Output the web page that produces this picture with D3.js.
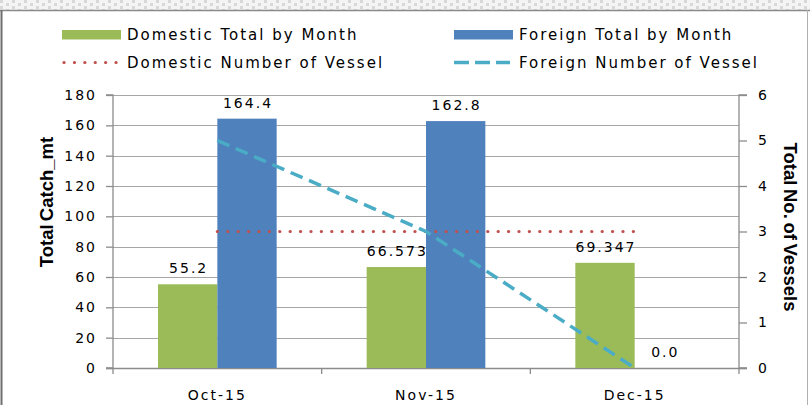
<!DOCTYPE html>
<html>
<head>
<meta charset="utf-8">
<script src="https://cdn.jsdelivr.net/npm/d3@7"></script>
<style>
  html, body { margin: 0; padding: 0; background: #fff; }
  svg { display: block; }
  text { font-family: "DejaVu Sans", Verdana, sans-serif; fill: #000; }
</style>
</head>
<body>
<svg id="chart" width="810" height="405"></svg>
<script>
// ---- data ----
const categories = ["Oct-15", "Nov-15", "Dec-15"];
const domesticTotal = [55.2, 66.573, 69.347];
const foreignTotal = [164.4, 162.8, 0.0];
const domesticVessels = [3, 3, 3];
const foreignVessels = [5, 3, 0];
const leftTicks = [0, 20, 40, 60, 80, 100, 120, 140, 160, 180];
const rightTicks = [0, 1, 2, 3, 4, 5, 6];
const seriesNames = ["Domestic Total by Month", "Foreign Total by Month",
                     "Domestic Number of Vessel", "Foreign Number of Vessel"];

// ---- layout ----
const W = 810, H = 405;
const plot = { left: 113, right: 739, top: 95, bottom: 368 };
const colors = { dom: "#9BBB59", for: "#4F81BD", domLine: "#C0504D", forLine: "#4BACC6" };

const svg = d3.select("#chart");

// top hatched strip and frame
const defs = svg.append("defs");
const pat = defs.append("pattern").attr("id", "hatch").attr("patternUnits", "userSpaceOnUse")
  .attr("width", 12).attr("height", 6);
pat.append("rect").attr("width", 12).attr("height", 6).attr("fill", "#f4f4f4");
pat.append("rect").attr("x", 0).attr("y", 0).attr("width", 3).attr("height", 3).attr("fill", "#d8d8d8");
pat.append("rect").attr("x", 6).attr("y", 3).attr("width", 3).attr("height", 3).attr("fill", "#d8d8d8");
svg.append("rect").attr("x", 0).attr("y", 0).attr("width", W).attr("height", 10).attr("fill", "url(#hatch)");
svg.append("line").attr("x1", 0).attr("x2", W).attr("y1", 10.5).attr("y2", 10.5)
  .attr("stroke", "#8a8a8a").attr("stroke-width", 1.5);
svg.append("line").attr("x1", 1.5).attr("x2", 1.5).attr("y1", 10).attr("y2", H)
  .attr("stroke", "#6e6e6e").attr("stroke-width", 2);
svg.append("line").attr("x1", 807.5).attr("x2", 807.5).attr("y1", 10).attr("y2", H)
  .attr("stroke", "#b0b0b0").attr("stroke-width", 1);

// scales
const x = d3.scaleBand().domain(categories).range([plot.left, plot.right]).paddingInner(0).paddingOuter(0);
const yL = d3.scaleLinear().domain([0, 180]).range([plot.bottom, plot.top]);
const yR = d3.scaleLinear().domain([0, 6]).range([plot.bottom, plot.top]);
const innerPad = 45;
const xs = d3.scaleBand().domain(["dom", "for"])
  .range([innerPad, x.bandwidth() - innerPad]).padding(0);

// gridlines
svg.append("g").selectAll("line").data(leftTicks.slice(1)).join("line")
  .attr("x1", plot.left).attr("x2", plot.right)
  .attr("y1", d => Math.round(yL(d)) + 0.5).attr("y2", d => Math.round(yL(d)) + 0.5)
  .attr("stroke", "#a6a6a6").attr("stroke-width", 1);

// left axis
const axL = svg.append("g").attr("transform", `translate(${plot.left},0)`)
  .call(d3.axisLeft(yL).tickValues(leftTicks).tickSize(7).tickPadding(11).tickFormat(d3.format("d")));
// right axis
const axR = svg.append("g").attr("transform", `translate(${plot.right},0)`)
  .call(d3.axisRight(yR).tickValues(rightTicks).tickSize(8).tickPadding(11).tickFormat(d3.format("d")));
// bottom axis
const axB = svg.append("g").attr("transform", `translate(0,${plot.bottom})`)
  .call(d3.axisBottom(x).tickSize(0).tickPadding(22));
[axL, axR, axB].forEach(g => {
  g.select(".domain").attr("stroke", "#8c8c8c").attr("stroke-width", 1.3);
  g.selectAll(".tick line").attr("stroke", "#8c8c8c").attr("stroke-width", 1.3);
  g.selectAll("text").attr("font-family", "DejaVu Sans, sans-serif")
    .attr("font-size", 14).attr("fill", "#000").attr("letter-spacing", 2);
});
axL.select(".domain").attr("d", `M-7,${plot.top}H0V${plot.bottom}H-7`);
axR.select(".domain").attr("d", `M8,${plot.top}H0V${plot.bottom}H8`);
axB.select(".domain").remove();
axL.selectAll(".tick text").attr("dx", 2);
// category boundary ticks on bottom axis
const bounds = categories.map(c => x(c)).concat([plot.right]);
svg.append("g").selectAll("line").data(bounds).join("line")
  .attr("x1", d => d).attr("x2", d => d)
  .attr("y1", plot.bottom).attr("y2", plot.bottom + 6)
  .attr("stroke", "#8c8c8c").attr("stroke-width", 1.3);
svg.append("line").attr("x1", plot.left - 7).attr("x2", plot.right + 8)
  .attr("y1", plot.bottom + 0.5).attr("y2", plot.bottom + 0.5)
  .attr("stroke", "#8c8c8c").attr("stroke-width", 1.3);

// bars
const barData = [];
categories.forEach((c, i) => {
  barData.push({ c, key: "dom", v: domesticTotal[i], label: String(domesticTotal[i]) });
  barData.push({ c, key: "for", v: foreignTotal[i], label: foreignTotal[i].toFixed(1) });
});
svg.append("g").selectAll("rect").data(barData).join("rect")
  .attr("x", d => x(d.c) + xs(d.key))
  .attr("width", xs.bandwidth())
  .attr("y", d => yL(d.v))
  .attr("height", d => yL(0) - yL(d.v))
  .attr("fill", d => colors[d.key]);

// lines
const lineR = d3.line().x((d, i) => x(categories[i]) + x.bandwidth() / 2).y(d => yR(d));
svg.append("path").datum(domesticVessels).attr("d", lineR)
  .attr("fill", "none").attr("stroke", colors.domLine).attr("stroke-width", 3.2)
  .attr("stroke-linecap", "round").attr("stroke-dasharray", "0.1,10.3");
svg.append("path").datum(foreignVessels).attr("d", lineR)
  .attr("fill", "none").attr("stroke", colors.forLine).attr("stroke-width", 3.5)
  .attr("stroke-dasharray", "13,7");

// data labels
svg.append("g").selectAll("text").data(barData).join("text")
  .attr("x", d => x(d.c) + xs(d.key) + xs.bandwidth() / 2 + 1)
  .attr("y", d => yL(d.v) - 11)
  .attr("text-anchor", "middle")
  .attr("font-size", 14).attr("letter-spacing", 2)
  .text(d => d.label);

// axis titles
svg.append("text")
  .attr("transform", `translate(53,202) rotate(-90)`)
  .attr("text-anchor", "middle")
  .style("font-family", "'Liberation Sans Narrow', 'Arial Narrow', sans-serif")
  .attr("font-weight", "bold").attr("font-size", 18.5).attr("word-spacing", -2)
  .text("Total Catch_mt");
svg.append("text")
  .attr("transform", `translate(784,227) rotate(90)`)
  .attr("text-anchor", "middle")
  .style("font-family", "'Liberation Sans Narrow', 'Arial Narrow', sans-serif")
  .attr("font-weight", "bold").attr("font-size", 18.5).attr("word-spacing", -1.5)
  .text("Total No. of Vessels");

// legend
const legend = svg.append("g");
const legItems = [
  { name: seriesNames[0], type: "rect", color: colors.dom, x: 62, y: 34.5 },
  { name: seriesNames[1], type: "rect", color: colors.for, x: 454, y: 34.5 },
  { name: seriesNames[2], type: "dot", color: colors.domLine, x: 62, y: 62.5 },
  { name: seriesNames[3], type: "dash", color: colors.forLine, x: 454, y: 62.5 }
];
legItems.forEach(it => {
  if (it.type === "rect") {
    legend.append("rect").attr("x", it.x).attr("y", it.y - 4.5).attr("width", 59).attr("height", 9.5)
      .attr("fill", it.color);
  } else if (it.type === "dot") {
    legend.append("line").attr("x1", it.x + 2).attr("x2", it.x + 56).attr("y1", it.y).attr("y2", it.y)
      .attr("stroke", it.color).attr("stroke-width", 3.2).attr("stroke-linecap", "round")
      .attr("stroke-dasharray", "0.1,10.3");
  } else {
    legend.append("line").attr("x1", it.x).attr("x2", it.x + 56).attr("y1", it.y).attr("y2", it.y)
      .attr("stroke", it.color).attr("stroke-width", 3.5).attr("stroke-dasharray", "15,6");
  }
  legend.append("text").attr("x", it.x + 65).attr("y", it.y + 5)
    .attr("font-size", 15).attr("letter-spacing", 2)
    .text(it.name);
});
</script>
</body>
</html>
